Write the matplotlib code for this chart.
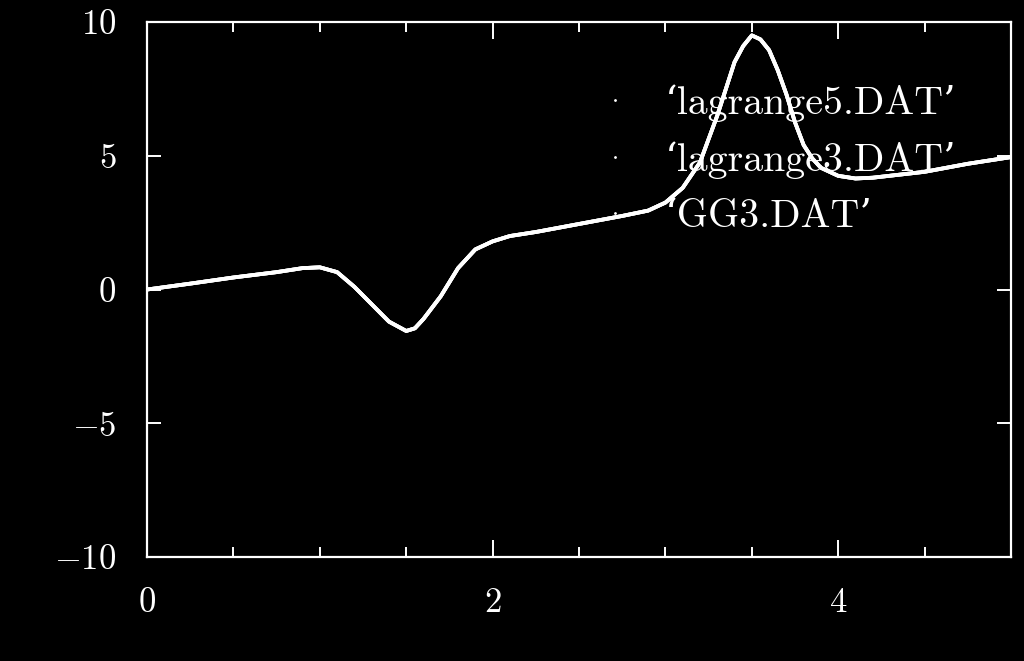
import matplotlib
matplotlib.use('Agg')
import matplotlib.pyplot as plt
from matplotlib.lines import Line2D

# values (the three files overlap into one curve)
x_vals = [0.0, 0.25, 0.5, 0.75, 0.9, 1.0, 1.1, 1.2, 1.3, 1.4, 1.5, 1.55, 1.6, 1.7,
          1.8, 1.9, 2.0, 2.1, 2.25, 2.5, 2.75, 2.9, 3.0, 3.1, 3.2, 3.3, 3.4, 3.45,
          3.5, 3.55, 3.6, 3.65, 3.7, 3.75, 3.8, 3.85, 3.9, 4.0, 4.1, 4.2, 4.5,
          4.75, 5.0]
lagrange5 = [0.0, 0.22, 0.45, 0.65, 0.8, 0.83, 0.65, 0.1, -0.55, -1.2, -1.55, -1.45,
             -1.1, -0.25, 0.8, 1.5, 1.8, 2.0, 2.15, 2.45, 2.75, 2.95, 3.25, 3.8,
             4.75, 6.5, 8.5, 9.1, 9.5, 9.35, 8.95, 8.2, 7.3, 6.25, 5.4, 4.9, 4.55,
             4.25, 4.15, 4.18, 4.4, 4.7, 4.95]
lagrange3 = list(lagrange5)
gg3 = list(lagrange5)

labels = ['\u2018lagrange5.DAT\u2019', '\u2018lagrange3.DAT\u2019', '\u2018GG3.DAT\u2019']

plt.rcParams['font.family'] = ['cmr10', 'DejaVu Serif']
plt.rcParams['mathtext.fontset'] = 'cm'
plt.rcParams['axes.formatter.use_mathtext'] = True

fig = plt.figure(figsize=(10.24, 6.61), dpi=100, facecolor='black')
ax = fig.add_axes([0.1436, 0.1573, 0.8437, 0.8094], facecolor='black')

for ys in (gg3, lagrange3, lagrange5):
    ax.plot(x_vals, ys, color='white', lw=2.7, solid_joinstyle='round')

ax.set_xlim(0, 5)
ax.set_ylim(-10, 10)
ax.set_xticks([0, 2, 4])
ax.set_xticks([0.5, 1, 1.5, 2.5, 3, 3.5, 4.5], minor=True)
ax.set_yticks([-10, -5, 0, 5, 10])

for s in ax.spines.values():
    s.set_color('white')
    s.set_linewidth(1.6)

ax.tick_params(which='both', direction='in', top=True, right=True, colors='white',
               labelsize=25, width=1.4)
ax.tick_params(axis='x', which='major', length=12, pad=22)
ax.tick_params(axis='x', which='minor', length=7)
ax.tick_params(axis='y', which='major', length=10, pad=22)

handles = [Line2D([], [], ls='', marker='.', ms=2, color='white') for _ in labels]
ax.legend(handles, labels, loc='upper left', bbox_to_anchor=(0.477, 0.951),
          frameon=False, fontsize=28.7, labelcolor='white', handlelength=1.0,
          handletextpad=0.75, labelspacing=0.49)

fig.savefig('out.png', dpi=100, facecolor='black')
